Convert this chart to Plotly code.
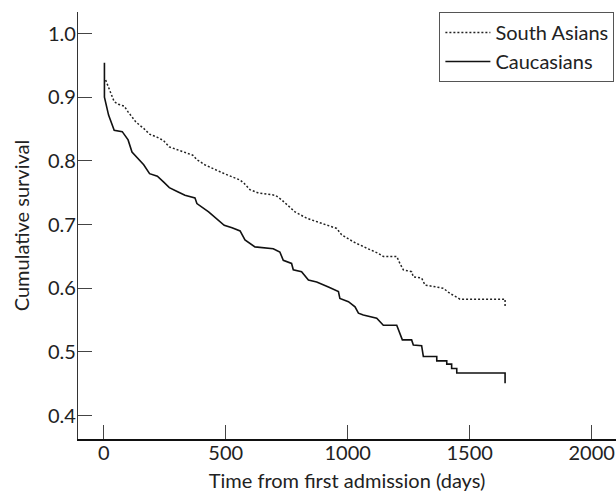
import plotly.graph_objects as go

# Kaplan-Meier estimates
sa_days = [8, 27, 43, 60, 84, 100, 132, 164, 188, 220, 245, 269, 317, 365, 382, 414, 454,
           494, 559, 575, 599, 631, 704, 729, 784, 832, 893, 955, 975, 1023, 1078, 1125, 1146,
           1201, 1214, 1228, 1262, 1269, 1303, 1317, 1365, 1392, 1419, 1460, 1645, 1645]
sa_surv = [0.927, 0.909, 0.893, 0.889, 0.886, 0.877, 0.861, 0.851, 0.842, 0.837, 0.832,
           0.822, 0.816, 0.809, 0.802, 0.794, 0.787, 0.780, 0.770, 0.765, 0.755, 0.750, 0.746,
           0.739, 0.720, 0.710, 0.702, 0.694, 0.684, 0.673, 0.663, 0.655, 0.650, 0.650, 0.639,
           0.629, 0.626, 0.618, 0.616, 0.605, 0.602, 0.600, 0.592, 0.583, 0.583, 0.571]

ca_days = [3, 3, 20, 43, 76, 100, 116, 140, 164, 188, 220, 245, 269, 301, 333, 374, 382, 430, 454,
           494, 526, 559, 579, 620, 695, 722, 736, 770, 777, 811, 839, 873, 921, 962, 968, 1003,
           1030, 1044, 1064, 1091, 1119, 1146, 1201, 1224, 1262, 1269, 1303, 1310, 1365, 1365,
           1406, 1406, 1426, 1426, 1447, 1447, 1645, 1645]
ca_surv = [0.954, 0.900, 0.872, 0.848, 0.846, 0.833, 0.814, 0.804, 0.794, 0.780, 0.776, 0.767,
           0.758, 0.752, 0.746, 0.742, 0.733, 0.720, 0.712, 0.699, 0.695, 0.690, 0.676, 0.665,
           0.662, 0.657, 0.644, 0.639, 0.629, 0.626, 0.613, 0.610, 0.602, 0.595, 0.584, 0.579,
           0.571, 0.561, 0.558, 0.555, 0.553, 0.542, 0.542, 0.519, 0.519, 0.511, 0.510, 0.493,
           0.493, 0.486, 0.486, 0.481, 0.481, 0.474, 0.474, 0.467, 0.467, 0.451]

x_ticks = [0, 500, 1000, 1500, 2000]
y_ticks = [0.4, 0.5, 0.6, 0.7, 0.8, 0.9, 1.0]

FONT = "Lato"

fig = go.Figure()
fig.add_trace(go.Scatter(x=sa_days, y=sa_surv, mode="lines", name="South Asians",
                         line=dict(color="#222", width=1.5, dash="2px,2px")))
fig.add_trace(go.Scatter(x=ca_days, y=ca_surv, mode="lines", name="Caucasians",
                         line=dict(color="#111", width=1.6)))

fig.update_layout(
    width=616, height=492,
    margin=dict(l=78, r=0, t=12, b=53),
    paper_bgcolor="white", plot_bgcolor="white",
    font=dict(family=FONT, size=20, color="#222"),
    showlegend=True,
    legend=dict(x=0.997, y=1, xanchor="right", yanchor="top",
                bordercolor="#555", borderwidth=1, bgcolor="white",
                font=dict(family=FONT, size=20), tracegroupgap=0,
                itemwidth=45),
    xaxis=dict(range=[-105.3, 2099.6], tickvals=x_ticks, ticktext=[str(v) for v in x_ticks],
               ticks="inside", ticklen=14, tickwidth=1, tickcolor="#444",
               showline=True, linecolor="#111", linewidth=1.5, showgrid=False, zeroline=False,
               ticklabelstandoff=-5,
               title=dict(text="Time from first admission (days)", standoff=16,
                          font=dict(size=20)),
               automargin=False),
    yaxis=dict(range=[0.3634, 1.0338], tickvals=y_ticks, ticktext=[f"{v:.1f}" for v in y_ticks],
               ticks="inside", ticklen=14, tickwidth=1, tickcolor="#444",
               showline=True, linecolor="#333", linewidth=1.2, showgrid=False, zeroline=False,
               ticklabelstandoff=-3,
               title=dict(text="Cumulative survival", standoff=12, font=dict(size=20)),
               automargin=False),
)

fig.write_html("out.html", config={"displayModeBar": False},
               post_script="document.body.style.margin='0';")
